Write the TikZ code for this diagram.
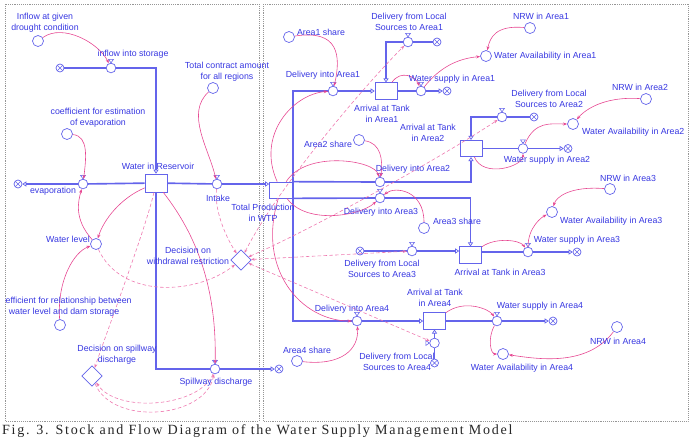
\documentclass[tikz,border=0pt]{standalone}
\usepackage{fontspec}
\setmainfont{Liberation Sans}
\newfontfamily\capfont[LetterSpace=12]{Liberation Serif}
\usepackage{tikz}
\usetikzlibrary{arrows.meta,calc,shapes.geometric}
\definecolor{sfdText}{RGB}{55,55,225}
\definecolor{sfdPipe}{RGB}{100,100,235}
\definecolor{sfdLink}{RGB}{230,70,145}
\definecolor{sfdDash}{RGB}{238,120,175}
\definecolor{sfdFrame}{RGB}{150,150,150}

\begin{document}
\begin{tikzpicture}[
    x=0.03cm, y=-0.03cm,
    every node/.style={font=\fontsize{7.5}{9.3}\selectfont, text=sfdText},
    lbl/.style={align=center, inner sep=0pt},
    aux/.style={circle, draw=sfdPipe, fill=white, line width=0.6pt, minimum size=3.3mm, inner sep=0pt},
    valve/.style={circle, draw=sfdPipe, fill=white, line width=0.6pt, minimum size=2.9mm, inner sep=0pt},
    sink/.style={circle, draw=sfdPipe, fill=white, line width=0.6pt, minimum size=2.4mm, inner sep=0pt,
      path picture={\draw[sfdPipe, line width=0.5pt]
        (path picture bounding box.north west) -- (path picture bounding box.south east)
        (path picture bounding box.north east) -- (path picture bounding box.south west);}},
    stock/.style={rectangle, draw=sfdPipe, fill=white, line width=0.6pt, minimum width=6.6mm, minimum height=5.1mm, inner sep=0pt},
    decision/.style={diamond, draw=sfdPipe, fill=white, line width=0.6pt, minimum size=6.2mm, inner sep=0pt},
    pipe/.style={draw=sfdPipe, line width=1.4pt},
    inflow/.style={pipe, arrows={-Triangle[open,length=3.5pt,width=4.5pt,line width=0.6pt]}},
    link/.style={draw=sfdLink, line width=0.5pt, arrows={-Stealth[length=3.5pt,width=2.6pt]}},
    dlink/.style={link, draw=sfdDash, dash pattern=on 3pt off 2pt},
    elink/.style={dlink, arrows={Stealth[length=3pt,width=2.4pt]-Stealth[length=3.5pt,width=2.6pt]}},
    hat/.style={draw=sfdPipe, fill=white, line width=0.5pt},
    frame/.style={draw=sfdFrame, densely dotted, line width=0.6pt}
]
\useasboundingbox (0,0) rectangle (697,437);
\draw[frame] (5,4) rectangle (259,421);
\draw[frame] (263,4) rectangle (688,421);

\node[stock, minimum height=5.4mm] (wres) at (156,183) {};
\node[stock, minimum width=6.9mm, minimum height=4.8mm] (wtp) at (281,190) {};
\foreach \n/\x/\y in {1/386/91, 2/471/148.5, 3/470.5/255, 4/434.5/321} {
  \node[stock, minimum height=4.9mm] (tank\n) at (\x,\y) {};
}
\foreach \n/\x/\y in {vin/111/68, vevap/83/184, vint/217/184, vspill/215/369,
    vd1/333/91, vd2/380/182, vd3/380/198, vd4/357/321,
    vl1/408/42, vl2/502/117, vl3/412/251, vl4/434.5/343,
    vs1/421/91, vs2/523/148.5, vs3/528/252, vs4/497/321} {
  \node[valve] (\n) at (\x,\y) {};
}
\foreach \n/\x/\y in {cin/60/68, cevap/18/184, cspill/279/369,
    cl1/437/42, cl2/534/117, cl3/360/251, cl4/434.5/363,
    cs1/447/91, cs2/568/148.5, cs3/577/252, cs4/553/321} {
  \node[sink] (\n) at (\x,\y) {};
}
\foreach \n/\x/\y in {aInflow/38/41, aCoefEvap/67/134, aContract/213/88, aLevel/96/244, aCoefLevel/60/325,
    aShare1/289/37, aShare2/359/140, aShare3/424/228, aShare4/297/361,
    aWA1/486/56, aWA2/573/124, aWA3/552/212, aWA4/503/354,
    aNRW1/530/28, aNRW2/646/99, aNRW3/610/189, aNRW4/617/327} {
  \node[aux] (\n) at (\x,\y) {};
}
\node[decision] (dWith) at (241,260) {};
\node[decision] (dSpill) at (92,376) {};

\draw[pipe] (cin) -- (vin);
\draw[inflow] (vin) -| (wres);
\draw[pipe] (wres) -- (vevap);
\draw[inflow] (vevap) -- (cevap);
\draw[pipe] (wres) -- (vint);
\draw[inflow] (vint) -- (vint -| wtp.west);
\draw[pipe] (wres) |- (vspill);
\draw[inflow] (vspill) -- (cspill);
\draw[pipe] (vd1) -| (wtp.east);
\draw[pipe] (vd4) -| (wtp.east);
\draw[pipe] (wtp.north east) -- (vd2);
\draw[pipe] (wtp.south east) -- (vd3);
\draw[inflow] (vd1) -- (tank1);
\draw[inflow] (vd2) -| (tank2);
\draw[inflow] (vd3) -| (tank3);
\draw[inflow] (vd4) -- (tank4);
\foreach \n in {1,2,4} \draw[pipe] (cl\n) -- (vl\n);
\draw[pipe] (cl3) -- (vl3);
\draw[inflow] (vl1) -| (tank1);
\draw[inflow] (vl2) -| (tank2);
\draw[inflow] (vl3) -- (vl3 -| tank3.west);
\draw[inflow] (vl4) -- (tank4);
\foreach \n in {1,2,4} {
  \draw[pipe] (tank\n) -- (vs\n);
  \draw[inflow] (vs\n) -- (cs\n);
}
\draw[pipe] (tank3.east |- vs3) -- (vs3);
\draw[inflow] (vs3) -- (cs3);

\foreach \v in {vin,vevap,vint,vspill,vd1,vd2,vd3,vd4,vl1,vl2,vl3,vs1,vs2,vs3,vs4}
  \draw[hat] (\v.north) -- ++(-2.5,-3.5) -- ++(5,0) -- cycle;
\draw[hat] (vl4.west) -- ++(-3.5,-2.5) -- ++(0,5) -- cycle;

\draw[link] (aInflow) .. controls +(25,-18) and +(-12,-25) .. (vin);
\draw[link] (aCoefEvap) .. controls +(22,2) and +(3,-25) .. (vevap);
\draw[link] (aContract) .. controls +(-28,25) and +(-8,-35) .. (vint);
\draw[link] (wres) .. controls +(-35,15) and +(8,-25) .. (aLevel);
\draw[link] (aLevel) .. controls +(-22,-25) and +(-5,18) .. (vevap);
\draw[link] (aCoefLevel) .. controls +(-3,-45) and +(-22,8) .. (aLevel);
\draw[link] (wres) .. controls +(35,45) and +(2,-90) .. (vspill);
\draw[dlink] (wres) .. controls +(-10,45) and +(15,-45) .. (dSpill);
\draw[dlink] (aLevel) .. controls +(25,55) and +(-45,35) .. (dWith);
\draw[dlink] (vint) .. controls +(-3,30) and +(-12,-18) .. (dWith);
\draw[dlink] (dSpill) .. controls +(20,50) and +(-10,50) .. (vspill);
\draw[dlink] (vspill) .. controls +(-15,38) and +(25,38) .. (dSpill);

\draw[link] (aShare1) .. controls +(50,-8) and +(8,-35) .. (vd1);
\draw[link] (wtp) .. controls +(-25,-55) and +(-40,3) .. (vd1);
\draw[link] (wtp) .. controls +(25,-40) and +(-5,-22) .. (vd2);
\draw[link] (aShare2) .. controls +(22,3) and +(3,-22) .. (vd2);
\draw[link] (wtp) .. controls +(25,35) and +(-20,18) .. (vd3);
\draw[link] (aShare3) .. controls +(0,-38) and +(15,-12) .. (vd3);
\draw[link] (wtp) .. controls +(-25,80) and +(-55,0) .. (vd4);
\draw[link] (aShare4) .. controls +(45,5) and +(2,28) .. (vd4);
\draw[link] (tank1) .. controls +(15,-22) and +(-5,-14) .. (vs1);
\draw[link] (vs1) .. controls +(22,-28) and +(-22,2) .. (aWA1);
\draw[link] (aNRW1) .. controls +(-35,-3) and +(4,-18) .. (aWA1);
\draw[link] (tank2) .. controls +(12,30) and +(0,18) .. (vs2);
\draw[link] (vs2) .. controls +(12,-28) and +(-22,0) .. (aWA2);
\draw[link] (aNRW2) .. controls +(-45,-3) and +(10,-12) .. (aWA2);
\draw[link] (tank3) .. controls +(25,-18) and +(-8,-12) .. (vs3);
\draw[link] (vs3) .. controls +(0,-25) and +(-10,5) .. (aWA3);
\draw[link] (aNRW3) .. controls +(-40,-3) and +(4,-15) .. (aWA3);
\draw[link] (tank4) .. controls +(30,-22) and +(-8,-12) .. (vs4);
\draw[link] (vs4) .. controls +(-10,18) and +(-12,0) .. (aWA4);
\draw[link] (aNRW4) .. controls +(-30,40) and +(35,5) .. (aWA4);
\draw[elink] (dWith) .. controls +(35,-70) and +(-45,45) .. (vl1);
\draw[elink] (dWith) .. controls +(70,-30) and +(-60,40) .. (vl2);
\draw[elink] (dWith) -- (vl3);
\draw[elink] (dWith) -- (vl4);

\node[lbl] (tInflow) at (45,22.5) {Inflow at given\\drought condition};
\node[lbl] (tInStor) at (133,54) {inflow into storage};
\node[lbl] (tWres) at (158,166) {Water in Reservoir};
\node[lbl] (tEvap) at (53,191) {evaporation};
\node[lbl] (tCoefEvap) at (98,117.5) {coefficient for estimation\\of evaporation};
\node[lbl] (tContract) at (227,71.5) {Total contract amount\\for all regions};
\node[lbl] (tIntake) at (218,198) {Intake};
\node[lbl] (tWtp) at (263,212.5) {Total Production\\in WTP};
\node[lbl, anchor=east] (tLevel) at (90,239) {Water level};
\begin{scope}
  \clip (5,4) rectangle (259,421);
  \node[lbl] (tCoefLevel) at (64,306.5) {coefficient for relationship between\\water level and dam storage};
\end{scope}
\node[lbl] (tDecWith) at (188,255.5) {Decision on\\withdrawal restriction};
\node[lbl] (tDecSpill) at (117,355) {Decision on spillway\\discharge};
\node[lbl] (tSpill) at (216,382) {Spillway discharge};

\foreach \n/\x/\y in {1/321/32, 2/328/144, 3/457/221, 4/307/350}
  \node[lbl] (tShare\n) at (\x,\y) {Area\n\ share};
\foreach \n/\x/\y in {1/323/75, 2/413/169, 3/381/212, 4/352/309}
  \node[lbl] (tDel\n) at (\x,\y) {Delivery into Area\n};
\foreach \n/\x/\y in {1/409/21.5, 2/549/98.5, 3/382/269, 4/397/361.5}
  \node[lbl] (tLoc\n) at (\x,\y) {Delivery from Local\\Sources to Area\n};
\foreach \n/\x/\y in {1/382/114, 2/428/132.5, 4/435/298}
  \node[lbl] (tTank\n) at (\x,\y) {Arrival at Tank\\in Area\n};
\node[lbl] (tTank3) at (500,272) {Arrival at Tank in Area3};
\foreach \n/\x/\y in {1/452/79, 2/547/160, 3/577/240, 4/540/306}
  \node[lbl] (tSup\n) at (\x,\y) {Water supply in Area\n};
\foreach \n/\x/\y in {1/541/16, 2/640/87, 3/628/178, 4/618/341}
  \node[lbl] (tNRW\n) at (\x,\y) {NRW in Area\n};
\foreach \n/\x/\y/\a in {1/494/56/west, 2/582/132/west, 3/560/221/west, 4/522/368/center}
  \node[lbl, anchor=\a] (tWA\n) at (\x,\y) {Water Availability in Area\n};

\node[font=\capfont\fontsize{12}{14}\selectfont, text=black!85, anchor=base west, inner sep=0pt] (tCap) at (2,434) {Fig. 3. Stock and Flow Diagram of the Water Supply Management Model};
\end{tikzpicture}
\end{document}
